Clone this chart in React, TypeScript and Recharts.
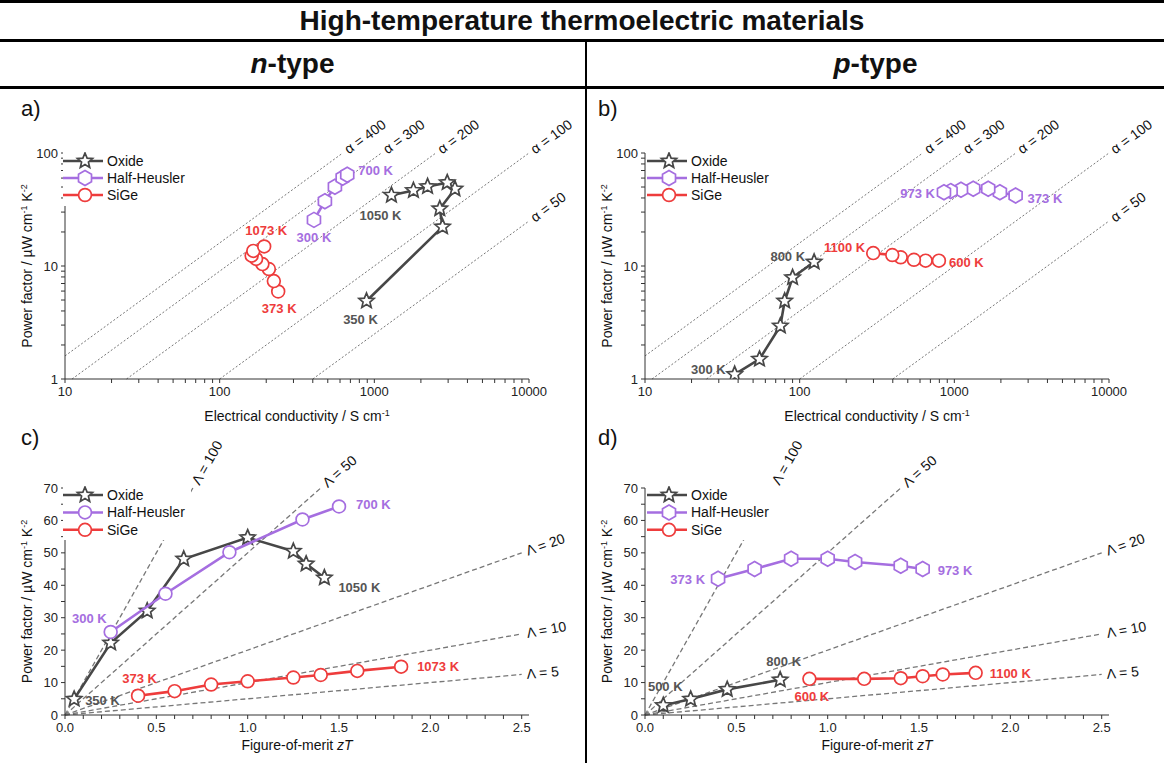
import React from "react";
import { ComposedChart, Scatter, XAxis, YAxis, ReferenceLine, ReferenceDot, Legend } from "recharts";

const FONT = '"Liberation Sans", Arial, Helvetica, sans-serif';

const OXIDE = "#474747";
const OXIDE_TXT = "#555555";
const HH = "#a56ee0";
const SIGE = "#ee3c3c";

// n-type: conductivity (S/cm), power factor (uW cm-1 K-2), zT
const nOxideSigma = [890, 2760, 2650, 3320, 2960, 2210, 1790, 1290];
const nOxidePF = [4.9, 22.2, 32.1, 48.1, 54.7, 50.5, 46.6, 42.3];
const nOxideZT = [0.05, 0.25, 0.45, 0.65, 1.0, 1.25, 1.32, 1.42];

const nHHSigma = [407, 479, 556, 624, 668];
const nHHPF = [25.6, 37.4, 50.2, 60.3, 64.3];
const nHHZT = [0.25, 0.55, 0.9, 1.3, 1.5];

const nSiGeSigma = [239, 224, 208, 189, 172, 161, 165, 194];
const nSiGePF = [5.95, 7.35, 9.4, 10.4, 11.55, 12.35, 13.6, 14.9];
const nSiGeZT = [0.4, 0.6, 0.8, 1.0, 1.25, 1.4, 1.6, 1.84];

// p-type
const pOxideSigma = [38, 55, 75, 80, 90, 124];
const pOxidePF = [1.1, 1.5, 2.95, 4.9, 7.9, 10.85];
const pOxideZT = [0.1, 0.25, 0.45, 0.74]; // 500-800 K only
const pOxidePFzT = [2.95, 4.9, 7.9, 10.85];

const pHHSigma = [2490, 1970, 1656, 1325, 1104, 946, 857];
const pHHPF = [42, 45, 48.2, 48.2, 47.2, 46, 45];
const pHHZT = [0.4, 0.6, 0.8, 1.0, 1.15, 1.4, 1.52];

const pSiGeSigma = [795, 652, 548, 450, 397, 299];
const pSiGePF = [11.15, 11.15, 11.35, 11.95, 12.5, 13.0];
const pSiGeZT = [0.9, 1.2, 1.4, 1.52, 1.63, 1.81];

// iso-lines
const seebeckValues = [400, 300, 200, 100, 50];
const lambdaValues = [100, 50, 20, 10, 5];

// ticks
const condTicks = [10, 20, 30, 40, 50, 60, 70, 80, 90, 100, 200, 300, 400, 500, 600, 700, 800, 900,
  1000, 2000, 3000, 4000, 5000, 6000, 7000, 8000, 9000, 10000];
const condLabels = [10, 100, 1000, 10000];
const pfLogTicks = [1, 2, 3, 4, 5, 6, 7, 8, 9, 10, 20, 30, 40, 50, 60, 70, 80, 90, 100];
const pfLogLabels = [1, 10, 100];
const ztTicks = [0, 0.1, 0.2, 0.3, 0.4, 0.5, 0.6, 0.7, 0.8, 0.9, 1.0, 1.1, 1.2, 1.3, 1.4, 1.5, 1.6, 1.7,
  1.8, 1.9, 2.0, 2.1, 2.2, 2.3, 2.4, 2.5];
const ztLabels = [0, 0.5, 1.0, 1.5, 2.0, 2.5];
const pfLinTicks = [0, 5, 10, 15, 20, 25, 30, 35, 40, 45, 50, 55, 60, 65, 70];
const pfLinLabels = [0, 10, 20, 30, 40, 50, 60, 70];

type Shape = "star" | "hex" | "circle";

const pts = (xs: number[], ys: number[]) => xs.map((x, i) => ({ x, y: ys[i] }));

const starPath = (cx: number, cy: number, R = 8, r = 3.6) => {
  let d = "";
  for (let i = 0; i < 10; i++) {
    const a = -Math.PI / 2 + (i * Math.PI) / 5;
    const rr = i % 2 === 0 ? R : r;
    d += (i ? "L" : "M") + (cx + rr * Math.cos(a)).toFixed(2) + "," + (cy + rr * Math.sin(a)).toFixed(2);
  }
  return d + "Z";
};

const hexPath = (cx: number, cy: number, R = 7.5) => {
  let d = "";
  for (let i = 0; i < 6; i++) {
    const a = -Math.PI / 2 + (i * Math.PI) / 3;
    d += (i ? "L" : "M") + (cx + R * Math.cos(a)).toFixed(2) + "," + (cy + R * Math.sin(a)).toFixed(2);
  }
  return d + "Z";
};

const Marker = ({ cx, cy, kind, color }: { cx: number; cy: number; kind: Shape; color: string }) => {
  if (cx == null || cy == null) return <g />;
  if (kind === "star") return <path d={starPath(cx, cy)} fill="#fff" stroke={color} strokeWidth={1.7} strokeLinejoin="miter" />;
  if (kind === "hex") return <path d={hexPath(cx, cy)} fill="#fff" stroke={color} strokeWidth={1.7} />;
  return <circle cx={cx} cy={cy} r={6.4} fill="#fff" stroke={color} strokeWidth={1.7} />;
};

const near = (list: number[], v: number) => list.some((l) => Math.abs(l - v) < 1e-6);

const makeTick = (labels: number[], fmt: (v: number) => string, axis: "x" | "y") => (props: any) => {
  const { x, y, payload } = props;
  if (!payload || !near(labels, payload.value)) return <g />;
  return (
    <text x={x} y={y} textAnchor={axis === "x" ? "middle" : "end"} dy={axis === "x" ? "0.72em" : "0.35em"}
      fontSize={13} fill="#222" fontFamily={FONT}>
      {fmt(payload.value)}
    </text>
  );
};

const condTick = makeTick(condLabels, (v) => String(v), "x");
const pfLogTick = makeTick(pfLogLabels, (v) => String(v), "y");
const ztTick = makeTick(ztLabels, (v) => v.toFixed(1), "x");
const pfLinTick = makeTick(pfLinLabels, (v) => String(v), "y");

const YTitle = (props: any) => {
  const vb = props.viewBox || { x: 0, y: 0, width: 0, height: 0 };
  const cx = vb.x + vb.width - 38;
  const cy = vb.y + vb.height / 2;
  return (
    <text x={cx} y={cy} transform={`rotate(-90 ${cx} ${cy})`} textAnchor="middle" dy="0.35em" fontSize={14} fill="#111" fontFamily={FONT}>
      Power factor / µW cm<tspan dy={-5} fontSize={9}>-1</tspan>
      <tspan dy={5}> K</tspan>
      <tspan dy={-5} fontSize={9}>-2</tspan>
    </text>
  );
};

const XTitle = (props: any) => {
  const vb = props.viewBox || { x: 0, y: 0, width: 0, height: 0 };
  const cx = vb.x + vb.width / 2;
  const by = vb.y + props.base;
  if (props.zt) {
    return (
      <text x={cx} y={by} textAnchor="middle" fontSize={14} fill="#111" fontFamily={FONT}>
        Figure-of-merit <tspan fontStyle="italic">zT</tspan>
      </text>
    );
  }
  return (
    <text x={cx} y={by} textAnchor="middle" fontSize={14} fill="#111" fontFamily={FONT}>
      Electrical conductivity  / S cm<tspan dy={-5} fontSize={9}>-1</tspan>
    </text>
  );
};

// rotated label at the upper end of an iso-line
const SlopeTag = (props: any) => {
  const vb = props.viewBox;
  if (!vb || vb.width == null) return <g />;
  const ang = Math.atan2(vb.height, vb.width);
  const gap = props.gap ?? 4;
  const tx = vb.x + vb.width + gap * Math.cos(ang);
  const ty = vb.y - gap * Math.sin(ang);
  const deg = (ang * 180) / Math.PI;
  return (
    <text x={tx} y={ty} transform={`rotate(${-deg} ${tx} ${ty})`} dy="0.35em" fontSize={14} fill="#111" fontFamily={FONT}>
      {props.text}
    </text>
  );
};

const Note = (props: any) => {
  const vb = props.viewBox;
  if (!vb || vb.x == null) return <g />;
  const cx = vb.x + (vb.width || 0) / 2 + props.dx;
  const cy = vb.y + (vb.height || 0) / 2 + props.dy;
  return (
    <text x={cx} y={cy} dy="0.35em" textAnchor={props.anchor} fontSize={13} fontWeight="bold" fill={props.color} fontFamily={FONT}>
      {props.text}
    </text>
  );
};

type SeriesDef = { name: string; color: string; shape: Shape; xs: number[]; ys: number[] };
type NoteDef = { x: number; y: number; text: string; color: string; dx: number; dy: number; anchor: "start" | "middle" | "end" };

const LegendBox = ({ items, rowGap }: { items: SeriesDef[]; rowGap: number }) => (
  <svg width={128} height={54} style={{ display: "block", background: "#fff" }}>
    {items.map((it, i) => {
      const y = 9 + i * rowGap;
      return (
        <g key={it.name}>
          <line x1={0} x2={40} y1={y} y2={y} stroke={it.color} strokeWidth={2.5} />
          <Marker cx={22} cy={y} kind={it.shape} color={it.color} />
          <text x={44} y={y} dy="0.35em" fontSize={14} fill="#111" fontFamily={FONT}>{it.name}</text>
        </g>
      );
    })}
  </svg>
);

type PanelProps = {
  mode: "cond" | "zt";
  left: number;
  top: number;
  width: number;
  height: number;
  marginLeft: number;
  marginRight: number;
  series: SeriesDef[];
  notes: NoteDef[];
  legendLeft: number;
  legendTop: number;
};

const Panel = (p: PanelProps) => {
  const cond = p.mode === "cond";
  const margin = cond
    ? { top: 58, right: p.marginRight, bottom: 26, left: p.marginLeft }
    : { top: 58, right: p.marginRight, bottom: 18, left: p.marginLeft };

  const isoLines = cond
    ? seebeckValues.map((a) => {
        const k = a * a * 1e-6;
        const x1 = Math.max(10, 1 / k);
        const x2 = Math.min(10000, 100 / k);
        return { key: `a${a}`, text: `α = ${a}`, seg: [{ x: x1, y: k * x1 }, { x: x2, y: k * x2 }] };
      })
    : lambdaValues.map((l) => {
        const x2 = Math.min(2.5, 70 / l);
        return { key: `l${l}`, text: `Λ = ${l}`, seg: [{ x: 0, y: 0 }, { x: x2, y: l * x2 }] };
      });

  return (
    <div style={{ position: "absolute", left: p.left, top: p.top }}>
      <ComposedChart width={p.width} height={p.height} margin={margin}>
        {cond ? (
          <XAxis type="number" dataKey="x" scale="log" domain={[10, 10000]} allowDataOverflow ticks={condTicks}
            interval={0} tick={condTick} tickSize={4} tickMargin={4} height={30} stroke="#333"
            label={<XTitle base={42} />} />
        ) : (
          <XAxis type="number" dataKey="x" domain={[0, 2.54]} allowDataOverflow ticks={ztTicks}
            interval={0} tick={ztTick} tickSize={4} tickMargin={4} height={30} stroke="#333"
            label={<XTitle base={35} zt />} />
        )}
        {cond ? (
          <YAxis type="number" dataKey="y" scale="log" domain={[1, 100]} allowDataOverflow ticks={pfLogTicks}
            interval={0} tick={pfLogTick} tickSize={4} tickMargin={3} width={50} stroke="#333"
            label={<YTitle />} />
        ) : (
          <YAxis type="number" dataKey="y" domain={[0, 70]} allowDataOverflow ticks={pfLinTicks}
            interval={0} tick={pfLinTick} tickSize={4} tickMargin={3} width={50} stroke="#333"
            label={<YTitle />} />
        )}
        {isoLines.map((l) => (
          <ReferenceLine key={l.key} segment={l.seg} ifOverflow="visible"
            stroke={cond ? "#666" : "#777"} strokeWidth={cond ? 0.9 : 1.3}
            strokeDasharray={cond ? "2 2" : "5 3"}
            label={<SlopeTag text={l.text} gap={cond ? 4 : 5} />} />
        ))}
        {p.series.map((s) => (
          <Scatter key={s.name} name={s.name} data={pts(s.xs, s.ys)} fill="#fff"
            line={{ stroke: s.color, strokeWidth: 2.6 }} lineType="joint"
            shape={(sp: any) => <Marker cx={sp.cx} cy={sp.cy} kind={s.shape} color={s.color} />}
            isAnimationActive={false} />
        ))}
        {p.notes.map((n) => (
          <ReferenceDot key={n.text + n.color} x={n.x} y={n.y} r={0} fill="none" stroke="none" ifOverflow="visible"
            label={<Note text={n.text} color={n.color} dx={n.dx} dy={n.dy} anchor={n.anchor} />} />
        ))}
        <Legend layout="vertical" align="center" verticalAlign="middle"
          wrapperStyle={{ position: "absolute", left: p.legendLeft, top: p.legendTop, width: 128, height: 54, lineHeight: 0 }}
          content={() => <LegendBox items={p.series} rowGap={cond ? 17 : 17.4} />} />
      </ComposedChart>
    </div>
  );
};

const last = (a: number[]) => a[a.length - 1];

const panelLabel = (t: string, left: number, top: number) => (
  <div style={{ position: "absolute", left, top, fontSize: 22, lineHeight: "22px", color: "#111" }}>{t}</div>
);

export default function App() {
  const nCond: SeriesDef[] = [
    { name: "Oxide", color: OXIDE, shape: "star", xs: nOxideSigma, ys: nOxidePF },
    { name: "Half-Heusler", color: HH, shape: "hex", xs: nHHSigma, ys: nHHPF },
    { name: "SiGe", color: SIGE, shape: "circle", xs: nSiGeSigma, ys: nSiGePF },
  ];
  const pCond: SeriesDef[] = [
    { name: "Oxide", color: OXIDE, shape: "star", xs: pOxideSigma, ys: pOxidePF },
    { name: "Half-Heusler", color: HH, shape: "hex", xs: pHHSigma, ys: pHHPF },
    { name: "SiGe", color: SIGE, shape: "circle", xs: pSiGeSigma, ys: pSiGePF },
  ];
  const nZT: SeriesDef[] = [
    { name: "Oxide", color: OXIDE, shape: "star", xs: nOxideZT, ys: nOxidePF },
    { name: "Half-Heusler", color: HH, shape: "circle", xs: nHHZT, ys: nHHPF },
    { name: "SiGe", color: SIGE, shape: "circle", xs: nSiGeZT, ys: nSiGePF },
  ];
  const pZT: SeriesDef[] = [
    { name: "Oxide", color: OXIDE, shape: "star", xs: pOxideZT, ys: pOxidePFzT },
    { name: "Half-Heusler", color: HH, shape: "hex", xs: pHHZT, ys: pHHPF },
    { name: "SiGe", color: SIGE, shape: "circle", xs: pSiGeZT, ys: pSiGePF },
  ];

  const notesA: NoteDef[] = [
    { x: last(nHHSigma), y: last(nHHPF), text: "700 K", color: HH, dx: 11, dy: -4, anchor: "start" },
    { x: nHHSigma[0], y: nHHPF[0], text: "300 K", color: HH, dx: 0, dy: 18, anchor: "middle" },
    { x: last(nOxideSigma), y: last(nOxidePF), text: "1050 K", color: OXIDE_TXT, dx: -11, dy: 20, anchor: "middle" },
    { x: nOxideSigma[0], y: nOxidePF[0], text: "350 K", color: OXIDE_TXT, dx: -6, dy: 18, anchor: "middle" },
    { x: last(nSiGeSigma), y: last(nSiGePF), text: "1073 K", color: SIGE, dx: 2, dy: -16, anchor: "middle" },
    { x: nSiGeSigma[0], y: nSiGePF[0], text: "373 K", color: SIGE, dx: 1, dy: 17, anchor: "middle" },
  ];
  const notesB: NoteDef[] = [
    { x: last(pOxideSigma), y: last(pOxidePF), text: "800 K", color: OXIDE_TXT, dx: -9, dy: -6, anchor: "end" },
    { x: pOxideSigma[0], y: pOxidePF[0], text: "300 K", color: OXIDE_TXT, dx: -9, dy: -5, anchor: "end" },
    { x: last(pSiGeSigma), y: last(pSiGePF), text: "1100 K", color: SIGE, dx: -8, dy: -6, anchor: "end" },
    { x: pSiGeSigma[0], y: pSiGePF[0], text: "600 K", color: SIGE, dx: 10, dy: 2, anchor: "start" },
    { x: last(pHHSigma), y: last(pHHPF), text: "973 K", color: HH, dx: -9, dy: 1, anchor: "end" },
    { x: pHHSigma[0], y: pHHPF[0], text: "373 K", color: HH, dx: 12, dy: 3, anchor: "start" },
  ];
  const notesC: NoteDef[] = [
    { x: last(nHHZT), y: last(nHHPF), text: "700 K", color: HH, dx: 17, dy: -2, anchor: "start" },
    { x: last(nOxideZT), y: last(nOxidePF), text: "1050 K", color: OXIDE_TXT, dx: 14, dy: 10, anchor: "start" },
    { x: nHHZT[0], y: nHHPF[0], text: "300 K", color: HH, dx: -4, dy: -14, anchor: "end" },
    { x: nOxideZT[0], y: nOxidePF[0], text: "350 K", color: OXIDE_TXT, dx: 11, dy: 1, anchor: "start" },
    { x: nSiGeZT[0], y: nSiGePF[0], text: "373 K", color: SIGE, dx: 1.5, dy: -17, anchor: "middle" },
    { x: last(nSiGeZT), y: last(nSiGePF), text: "1073 K", color: SIGE, dx: 16, dy: 0, anchor: "start" },
  ];
  const notesD: NoteDef[] = [
    { x: pHHZT[0], y: pHHPF[0], text: "373 K", color: HH, dx: -13, dy: 1, anchor: "end" },
    { x: last(pHHZT), y: last(pHHPF), text: "973 K", color: HH, dx: 15, dy: 1, anchor: "start" },
    { x: last(pOxideZT), y: last(pOxidePFzT), text: "800 K", color: OXIDE_TXT, dx: 3.5, dy: -18, anchor: "middle" },
    { x: pOxideZT[0], y: pOxidePFzT[0], text: "500 K", color: OXIDE_TXT, dx: 2, dy: -19, anchor: "middle" },
    { x: pSiGeZT[0], y: pSiGePF[0], text: "600 K", color: SIGE, dx: 2.5, dy: 18, anchor: "middle" },
    { x: last(pSiGeZT), y: last(pSiGePF), text: "1100 K", color: SIGE, dx: 14, dy: 1, anchor: "start" },
  ];

  return (
    <div style={{ position: "absolute", left: 0, top: 0, width: 1164, height: 763, background: "#fff", fontFamily: FONT, overflow: "hidden", color: "#111" }}>
      <div style={{ position: "absolute", left: 0, top: 0, width: 1164, height: 3, background: "#000" }} />
      <div style={{ position: "absolute", left: 0, top: 3, width: 1164, height: 36, display: "flex", alignItems: "center", justifyContent: "center", fontSize: 28, fontWeight: "bold" }}>
        High-temperature thermoelectric materials
      </div>
      <div style={{ position: "absolute", left: 0, top: 39, width: 1164, height: 3, background: "#000" }} />
      <div style={{ position: "absolute", left: 585, top: 42, width: 2, height: 721, background: "#000" }} />
      <div style={{ position: "absolute", left: 0, top: 42, width: 585, height: 44, display: "flex", alignItems: "center", justifyContent: "center", fontSize: 28, fontWeight: "bold" }}>
        <span style={{ fontStyle: "italic" }}>n</span>-type
      </div>
      <div style={{ position: "absolute", left: 587, top: 42, width: 577, height: 44, display: "flex", alignItems: "center", justifyContent: "center", fontSize: 28, fontWeight: "bold" }}>
        <span style={{ fontStyle: "italic" }}>p</span>-type
      </div>
      <div style={{ position: "absolute", left: 0, top: 86, width: 1164, height: 3, background: "#000" }} />

      <Panel mode="cond" left={0} top={95} width={586} height={340} marginLeft={15} marginRight={57}
        series={nCond} notes={notesA} legendLeft={63} legendTop={57} />
      <Panel mode="cond" left={586} top={95} width={578} height={340} marginLeft={9} marginRight={55}
        series={pCond} notes={notesB} legendLeft={61} legendTop={57} />
      <Panel mode="zt" left={0} top={430} width={586} height={333} marginLeft={15} marginRight={57}
        series={nZT} notes={notesC} legendLeft={63} legendTop={56} />
      <Panel mode="zt" left={586} top={430} width={578} height={333} marginLeft={9} marginRight={55}
        series={pZT} notes={notesD} legendLeft={61} legendTop={56} />

      {panelLabel("a)", 21, 98)}
      {panelLabel("b)", 598, 98)}
      {panelLabel("c)", 21, 427)}
      {panelLabel("d)", 598, 427)}
    </div>
  );
}
